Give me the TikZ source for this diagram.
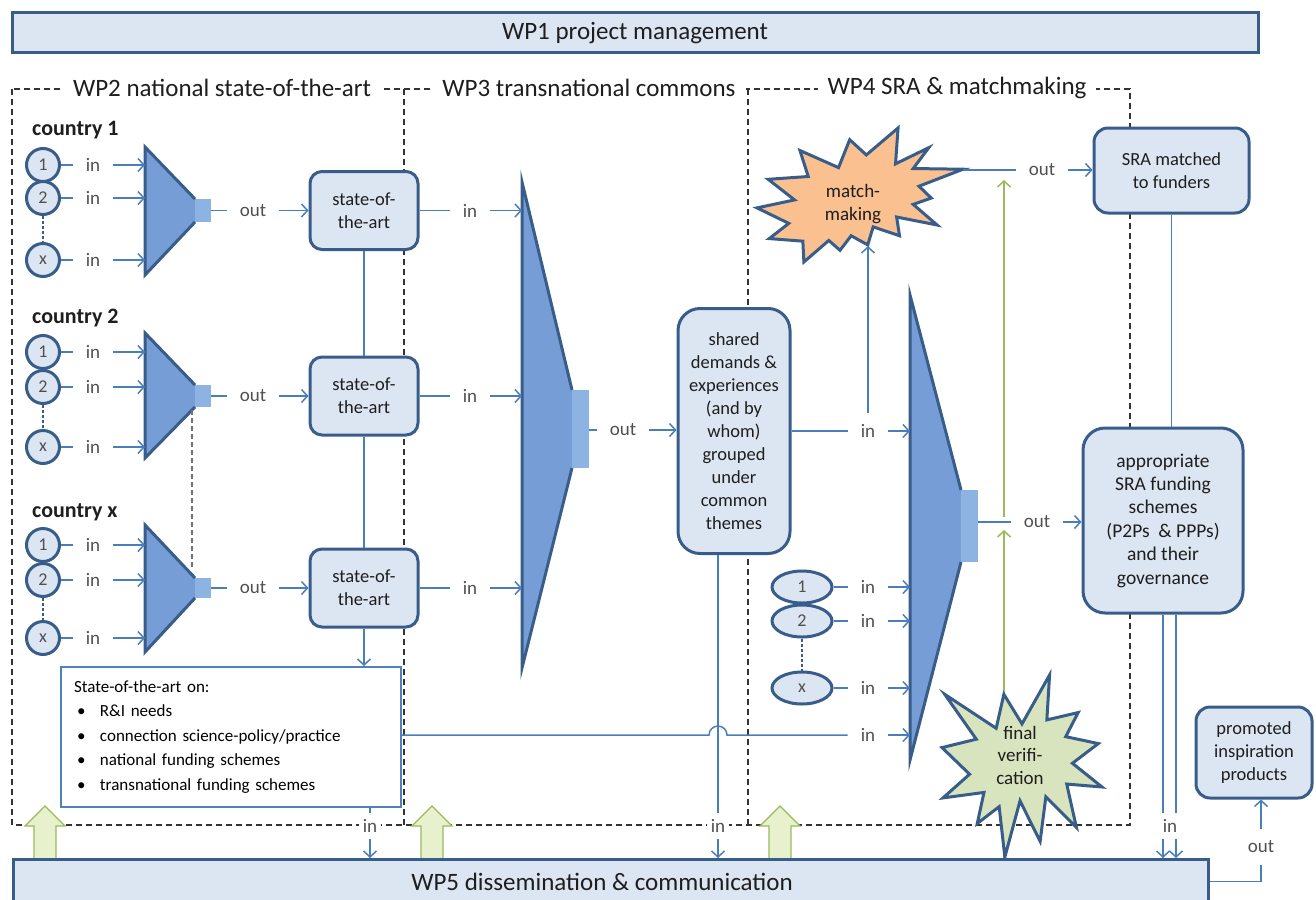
\documentclass[tikz,border=0pt]{standalone}
\usepackage{fontspec}
\setmainfont{Carlito}
\usetikzlibrary{arrows.meta,calc,shapes.geometric}
\definecolor{boxfill}{RGB}{220,230,242}
\definecolor{boxdraw}{RGB}{56,93,138}
\definecolor{linec}{RGB}{74,126,187}
\definecolor{funfill}{RGB}{118,157,214}
\definecolor{spoutfill}{RGB}{141,179,226}
\definecolor{lblc}{RGB}{80,80,80}
\definecolor{txtc}{RGB}{30,30,30}
\definecolor{orangefill}{RGB}{250,192,144}
\definecolor{olivefill}{RGB}{215,228,189}
\definecolor{greenline}{RGB}{155,187,89}
\definecolor{greenfill}{RGB}{232,241,206}
\definecolor{soadraw}{RGB}{79,129,189}
\pgfdeclarelayer{bg}
\pgfsetlayers{bg,main}
\tikzset{
  hbox/.style={draw=boxdraw, fill=boxfill, line width=3pt, inner sep=0pt, font=\fontsize{25}{30}\selectfont, text=txtc},
  wptitle/.style={fill=white, inner xsep=10pt, inner ysep=2pt, font=\fontsize{25}{30}\selectfont, text=txtc},
  rbox/.style={draw=boxdraw, fill=boxfill, line width=3pt, rounded corners=12pt, align=center, font=\fontsize{18.5}{23}\selectfont, text=txtc, inner sep=0pt},
  lbl/.style={font=\fontsize{19}{22}\selectfont, text=lblc, inner xsep=13pt, inner ysep=3pt},
  blbl/.style={font=\fontsize{19}{22}\selectfont, text=lblc, fill=white, inner xsep=4pt, inner ysep=6pt},
  conn/.style={draw=linec, line width=1.5pt},
  arr/.style={conn, -{Straight Barb[length=6pt,width=13pt]}},
  wpframe/.style={draw=black!80, line width=1.5pt, dash pattern=on 6pt off 4pt},
  inp/.style={circle, draw=boxdraw, fill=boxfill, line width=3pt, minimum size=33pt, inner sep=0pt, font=\fontsize{18}{20}\selectfont, text=lblc},
  inpe/.style={ellipse, draw=boxdraw, fill=boxfill, line width=3pt, minimum width=60pt, minimum height=32pt, inner sep=0pt, font=\fontsize{18}{20}\selectfont, text=lblc},
  funline/.style={draw=boxdraw, line width=3pt, line join=miter},
  country/.style={font=\bfseries\fontsize{22}{26}\selectfont, text=txtc, anchor=west, inner sep=0pt},
  starline/.style={draw=boxdraw, line width=3pt, line join=miter},
  startext/.style={align=center, font=\fontsize{19}{22.5}\selectfont, text=txtc, inner sep=0pt},
  greenarr/.style={draw=greenline, line width=1.5pt, -{Straight Barb[length=6pt,width=13pt]}},
  blockarr/.style={draw=greenline, fill=greenfill, line width=1.2pt, line join=miter},
  dashlink/.style={draw=boxdraw, line width=1.2pt, dash pattern=on 3pt off 2pt},
  graydash/.style={draw=black!55, line width=1.2pt, dash pattern=on 5pt off 3pt},
}
\begin{document}
\begin{tikzpicture}[x=1pt,y=-1pt]
\useasboundingbox (0,0) rectangle (1316,899);

% work-package frames
\draw[wpframe] (12,89) rectangle (1130,825);
\draw[wpframe] (404,89) -- (404,825);
\draw[wpframe] (748,89) -- (748,825);
\node[wptitle] (t2) at (222,88) {WP2 national state-of-the-art};
\node[wptitle] (t3) at (589,88) {WP3 transnational commons};
\node[wptitle] (t4) at (957,88) {WP4 SRA \& matchmaking};

% header
\node[hbox, minimum width=1246pt, minimum height=40pt] (wp1) at (635,33) {WP1 project management};

% country groups
\foreach \g/\cn/\ly/\ya/\yb/\yx/\ft/\fb/\st/\sb in {1/1/130/165/198/260/147/275/199/222, 2/2/318/352/387/447/333/458/385/407, 3/x/512/545/580/638/525/652/578/598}{
  \node[country] (cl\g) at (32,\ly) {country \cn};
  \fill[funfill] (145,\ft) -- (195,\st) -- (195,\sb) -- (145,\fb) -- cycle;
  \fill[spoutfill] (195,\st) rectangle (211,\sb);
  \draw[funline] (195,\st) -- (145,\ft) -- (145,\fb) -- (195,\sb);
  \coordinate (fw\g) at (145,\ya);
  \coordinate (fo\g) at (211,{(\st+\sb)/2});
  \node[inp] (ca\g) at (43,\ya) {1};
  \node[inp] (cb\g) at (43,\yb) {2};
  \node[inp] (cx\g) at (43,\yx) {x};
  \draw[dashlink] (cb\g) -- (cx\g);
  \node[lbl] (ia\g) at (93,\ya) {in};
  \node[lbl] (ib\g) at (93,\yb) {in};
  \node[lbl] (ix\g) at (93,\yx) {in};
  \draw[conn] (ca\g) -- (ia\g);
  \draw[conn] (cb\g) -- (ib\g);
  \draw[conn] (cx\g) -- (ix\g);
  \draw[arr] (ia\g) -- (ia\g -| fw\g);
  \draw[arr] (ib\g) -- (ib\g -| fw\g);
  \draw[arr] (ix\g) -- (ix\g -| fw\g);
  \node[rbox, minimum width=108pt, minimum height=78pt] (sa\g) at (364,{(\st+\sb)/2}) {state-of-\\the-art};
  \node[lbl] (ou\g) at (253,{(\st+\sb)/2}) {out};
  \draw[conn] (fo\g) -- (ou\g);
  \draw[arr] (ou\g) -- (ou\g -| sa\g.west);
}
\coordinate (fb2) at (192,410);
\coordinate (ft3) at (192,567);
\draw[graydash] (fb2) -- (ft3);
\draw[conn] (sa1) -- (sa2);
\draw[conn] (sa2) -- (sa3);

% state-of-the-art summary
\node[draw=soadraw, fill=white, line width=2pt, text width=314pt, inner xsep=13pt, minimum height=140pt, anchor=north west, align=left, font=\fontsize{17}{24.5}\selectfont, text=black] (soa) at (60,666) {State-of-the-art on:\\
\makebox[26pt][l]{\hspace{3pt}\textbullet}R\&I needs\\
\makebox[26pt][l]{\hspace{3pt}\textbullet}connection science-policy/practice\\
\makebox[26pt][l]{\hspace{3pt}\textbullet}national funding schemes\\
\makebox[26pt][l]{\hspace{3pt}\textbullet}transnational funding schemes};
\draw[arr] (sa3) -- (sa3 |- soa.north);

% WP3 funnel
\fill[funfill] (522,182) -- (572,390) -- (572,468) -- (522,668) -- cycle;
\fill[spoutfill] (572,390) rectangle (589,468);
\draw[funline] (572,390) -- (522,182) -- (522,668) -- (572,468);
\coordinate (F3w) at (522,400);
\coordinate (F3o) at (589,430);
\foreach \g/\y in {1/210.5,2/396,3/588}{
  \node[lbl] (tin\g) at (470,\y) {in};
  \draw[conn] (sa\g) -- (tin\g);
  \draw[arr] (tin\g) -- (tin\g -| F3w);
}
\node[rbox, rounded corners=22pt, minimum width=112pt, minimum height=245pt] (sh) at (734,431) {shared\\demands \&\\experiences\\(and by\\whom)\\grouped\\under\\common\\themes};
\node[lbl] (o3) at (623,430) {out};
\draw[conn] (F3o) -- (o3);
\draw[arr] (o3) -- (o3 -| sh.west);

% WP4 funnel
\fill[funfill] (910,295) -- (961,490) -- (961,562) -- (910,760) -- cycle;
\fill[spoutfill] (961,490) rectangle (978,562);
\draw[funline] (961,490) -- (910,295) -- (910,760) -- (961,562);
\coordinate (F4w) at (910,400);
\coordinate (F4o) at (978,522);
\node[inpe] (e1) at (802,587) {1};
\node[inpe] (e2) at (802,621) {2};
\node[inpe] (ex) at (802,688) {x};
\draw[dashlink] (e2) -- (ex);
\node[lbl] (w1) at (868,431) {in};
\node[lbl] (w2) at (868,587) {in};
\node[lbl] (w3) at (868,621) {in};
\node[lbl] (w4) at (868,688) {in};
\node[lbl] (w5) at (868,735) {in};
\draw[conn] (sh) -- (w1);
\draw[conn] (e1) -- (w2);
\draw[conn] (e2) -- (w3);
\draw[conn] (ex) -- (w4);
\foreach \w in {w1,w2,w3,w4,w5}{\draw[arr] (\w) -- (\w -| F4w);}
% line from summary box with hop
\node[blbl] (b2) at (718,826) {in};
\coordinate (hop) at (b2 |- w5);
\draw[conn] (soa.east |- w5) -- ($(hop)+(-9,0)$) arc[start angle=180, end angle=360, radius=9] -- (w5);

% matchmaking star
\begin{scope}[shift={(757,128)}, xscale=0.9537, yscale=0.6204]
\draw[starline, fill=orangefill] (114.62,43.42) -- (147.90,0) -- (145.25,57.77) -- (180.07,31.72) -- (163.80,65.32) -- (216,66.45) -- (169.85,93.82) -- (182.70,112.90) -- (163.80,123.10) -- (188.77,156.32) -- (146.40,143.50) -- (149.42,173.70) -- (121.80,159.35) -- (116.12,188.42) -- (98.72,173.70) -- (87.00,197.12) -- (75.27,181.25) -- (49.17,216) -- (48.05,182.40) -- (12.85,178.25) -- (33.30,153.70) -- (0,128.77) -- (39.35,115.92) -- (11.72,82.70) -- (53.72,78.17) -- (45.02,36.25) -- (85.50,63.82) -- (97.22,18.87) -- cycle;
\end{scope}
\node[startext] (mm) at (853,204) {match-\\making};
\coordinate (mmR) at (963,170);
\coordinate (mmB) at (868,246);
\draw[arr] ($(w1.north)+(0,-8)$) -- (mmB);

% SRA boxes
\node[rbox, rounded corners=14pt, minimum width=155pt, minimum height=85pt] (sra) at (1171.5,170.5) {SRA matched\\to funders};
\node[lbl] (o5) at (1042,170) {out};
\draw[conn] (mmR) -- (o5);
\draw[arr] (o5) -- (o5 -| sra.west);
\node[rbox, rounded corners=22pt, minimum width=160pt, minimum height=185pt, font=\fontsize{19.5}{23.4}\selectfont] (app) at (1163,520.5) {appropriate\\SRA funding\\schemes\\(P2Ps~~\& PPPs)\\and their\\governance};
\draw[conn] (sra.south) -- (sra.south |- app.north);
\node[lbl] (o4) at (1037,522) {out};
\draw[conn] (F4o) -- (o4);
\draw[arr] (o4) -- (o4 -| app.west);

% green verification lines
\coordinate (g1s) at (1004,517);
\coordinate (g1e) at (1004,180);
\coordinate (g2s) at (1004,858);
\coordinate (g2e) at (1004,530);
\begin{pgfonlayer}{bg}
\draw[greenarr] (g1s) -- (g1e);
\draw[greenarr] (g2s) -- (g2e);
\end{pgfonlayer}

% final verification star
\begin{scope}[shift={(942,675)}, xscale=0.7407, yscale=0.8426]
\draw[starline, fill=olivefill] (108,58) -- (145.22,0) -- (141.55,53.25) -- (183.80,44.57) -- (167.02,73.15) -- (210.97,81.37) -- (176.07,104.75) -- (216,132.90) -- (168.37,129.42) -- (181.45,180.95) -- (140.20,144.57) -- (132.47,197.37) -- (105.32,149.35) -- (84.85,216) -- (77.15,156.27) -- (47.62,176.17) -- (56.67,139.37) -- (1.35,145.87) -- (37.22,117.75) -- (0,86.15) -- (46.27,76.17) -- (3.70,22.95) -- (73.12,63.20) -- (83.52,22.95) -- cycle;
\end{scope}
\node[startext] (fv) at (1020,755) {final\\verifi-\\cation};

% promoted products
\node[rbox, rounded corners=14pt, minimum width=116pt, minimum height=91pt] (pr) at (1254,752.5) {promoted\\inspiration\\products};

% green block arrows
\foreach \x in {45,432,780}{
  \draw[blockarr] (\x-11,860) -- (\x-11,826) -- (\x-20,826) -- (\x,806) -- (\x+20,826) -- (\x+11,826) -- (\x+11,860);
}

% WP5
\node[hbox, minimum width=1195pt, minimum height=44pt, anchor=north west] (wp5) at (12,858) {\hspace*{-18pt}WP5 dissemination \& communication};

% links into WP5
\node[blbl] (b1) at (370,826) {in};
\draw[conn] (soa.south -| b1) -- (b1);
\draw[arr] (b1) -- (b1 |- wp5.north);
\draw[conn] (sh.south -| b2) -- (b2);
\draw[arr] (b2) -- (b2 |- wp5.north);
\node[blbl] (b3) at (1170,826) {in};
\coordinate (a1) at (app.south);
\coordinate (a2) at ($(app.south)+(13,0)$);
\draw[conn] (a1) -- (a1 |- b3.north);
\draw[conn] (a2) -- (a2 |- b3.north);
\draw[arr] (a1 |- b3.south) -- (a1 |- wp5.north);
\draw[arr] (a2 |- b3.south) -- (a2 |- wp5.north);

% WP5 out to promoted
\node[lbl, inner ysep=12pt] (op) at (1261,847) {out};
\draw[conn] (wp5.east) -| (op.south);
\draw[arr] (op) -- (op |- pr.south);
\end{tikzpicture}
\end{document}
